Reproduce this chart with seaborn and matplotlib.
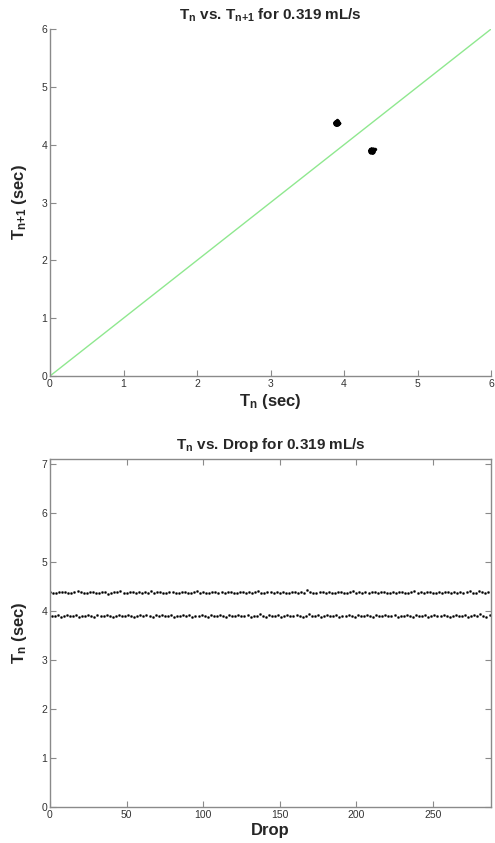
import numpy as np
import pandas as pd
import matplotlib
matplotlib.use("Agg")
import matplotlib.pyplot as plt
import seaborn as sns

# ---- data ----
tn_high = [4.38,4.37,4.36,4.38,4.39,4.38,4.37,4.36,4.38,4.40,4.38,4.37,
           4.36,4.38,4.39,4.37,4.36,4.38,4.38,4.35,4.37,4.39,4.38,4.41,
           4.37,4.36,4.38,4.38,4.37,4.39,4.36,4.38,4.37,4.40,4.36,4.38,
           4.39,4.37,4.36,4.38,4.38,4.36,4.37,4.39,4.38,4.37,4.36,4.38,
           4.40,4.37,4.38,4.36,4.37,4.39,4.38,4.36,4.38,4.37,4.39,4.38,
           4.36,4.37,4.38,4.39,4.36,4.38,4.37,4.38,4.40,4.37,4.36,4.38,
           4.38,4.37,4.39,4.36,4.38,4.37,4.36,4.38,4.39,4.37,4.38,4.36,
           4.42,4.38,4.37,4.36,4.38,4.39,4.37,4.38,4.36,4.37,4.39,4.38,
           4.37,4.36,4.38,4.40,4.37,4.38,4.36,4.39,4.37,4.38,4.38,4.36,
           4.38,4.39,4.37,4.36,4.38,4.37,4.39,4.38,4.36,4.37,4.38,4.40,
           4.37,4.38,4.36,4.39,4.38,4.37,4.36,4.38,4.37,4.39,4.38,4.36,
           4.38,4.37,4.39,4.36,4.38,4.40,4.37,4.36,4.41,4.38,4.37,4.39]
tn_low = [3.90,3.89,3.91,3.88,3.90,3.92,3.89,3.90,3.91,3.88,3.90,3.89,
          3.91,3.90,3.88,3.92,3.89,3.90,3.91,3.89,3.88,3.90,3.92,3.90,
          3.89,3.91,3.90,3.88,3.90,3.91,3.89,3.92,3.90,3.88,3.91,3.90,
          3.92,3.89,3.90,3.91,3.88,3.90,3.89,3.91,3.90,3.92,3.88,3.90,
          3.89,3.91,3.90,3.88,3.92,3.90,3.89,3.91,3.90,3.88,3.91,3.89,
          3.90,3.92,3.89,3.90,3.91,3.88,3.90,3.89,3.93,3.90,3.88,3.91,
          3.89,3.90,3.91,3.88,3.90,3.92,3.89,3.90,3.91,3.89,3.88,3.90,
          3.93,3.90,3.89,3.91,3.88,3.90,3.92,3.89,3.90,3.91,3.88,3.90,
          3.89,3.91,3.90,3.88,3.92,3.90,3.89,3.91,3.90,3.88,3.91,3.89,
          3.90,3.92,3.89,3.90,3.91,3.88,3.90,3.89,3.91,3.90,3.88,3.92,
          3.90,3.89,3.91,3.88,3.90,3.92,3.89,3.90,3.91,3.89,3.88,3.90,
          3.91,3.89,3.90,3.92,3.88,3.90,3.91,3.89,3.93,3.90,3.88,3.91]
diag_x = [0, 6]
diag_y = [0, 6]
top_ticks = [0, 1, 2, 3, 4, 5, 6]
bottom_yticks = [0, 1, 2, 3, 4, 5, 6, 7]
bottom_xticks = [0, 50, 100, 150, 200, 250]

tn = [v for pair in zip(tn_high, tn_low) for v in pair]
drop = list(range(len(tn)))
df_series = pd.DataFrame({"Drop": drop, "Tn": tn})
df_return = pd.DataFrame({"Tn": tn[:-1], "Tn1": tn[1:]})
df_diag = pd.DataFrame({"x": diag_x, "y": diag_y})

# ---- style ----
sns.set_theme(style="white")
plt.rcParams["font.family"] = ["Liberation Sans", "DejaVu Sans"]
plt.rcParams["mathtext.fontset"] = "custom"
plt.rcParams["mathtext.bf"] = "Liberation Sans:bold"
plt.rcParams["mathtext.rm"] = "Liberation Sans:bold"
plt.rcParams["mathtext.default"] = "bf"

spine_c = "#8a8a8a"
tick_c = "#333333"

fig = plt.figure(figsize=(4.95, 8.43), dpi=100)
ax1 = fig.add_axes([0.101, 0.554, 0.891, 0.4115])
ax2 = fig.add_axes([0.101, 0.0427, 0.891, 0.4128])

# top: return map
sns.lineplot(data=df_diag, x="x", y="y", ax=ax1, color="#8fe88f", lw=1.0)
sns.scatterplot(data=df_return, x="Tn", y="Tn1", ax=ax1, color="black",
                s=5, marker="o", edgecolor="black", linewidth=0.2)
ax1.set_xlim(0, 6)
ax1.set_ylim(0, 6)
ax1.set_xticks(top_ticks)
ax1.set_yticks(top_ticks)
ax1.set_title("$T_n$ vs. $T_{n{+}1}$ for 0.319 mL/s", fontsize=11, fontweight="bold", pad=7)
ax1.set_xlabel("$T_n$ (sec)", fontsize=12, fontweight="bold", labelpad=2)
ax1.set_ylabel("$T_{n{+}1}$ (sec)", fontsize=12, fontweight="bold", labelpad=9)
for s in ["top", "right"]:
    ax1.spines[s].set_visible(False)
for s in ["left", "bottom"]:
    ax1.spines[s].set_color(spine_c)
    ax1.spines[s].set_linewidth(1.0)
ax1.tick_params(direction="in", length=4, width=0.8, color=spine_c,
                labelsize=7.5, labelcolor=tick_c, bottom=True, left=True, pad=2)

# bottom: time series
sns.scatterplot(data=df_series, x="Drop", y="Tn", ax=ax2, color="black",
                s=2.5, marker="o", edgecolor="black", linewidth=0.2)
ax2.set_xlim(0, 288)
ax2.set_ylim(0, 7.1)
ax2.set_xticks(bottom_xticks)
ax2.set_yticks(bottom_yticks)
ax2.set_title("$T_n$ vs. Drop for 0.319 mL/s", fontsize=11, fontweight="bold", pad=7)
ax2.set_xlabel("Drop", fontsize=12, fontweight="bold", labelpad=2)
ax2.set_ylabel("$T_n$ (sec)", fontsize=12, fontweight="bold", labelpad=9)
for s in ["left", "bottom", "top", "right"]:
    ax2.spines[s].set_visible(True)
    ax2.spines[s].set_color(spine_c)
    ax2.spines[s].set_linewidth(1.0)
ax2.tick_params(direction="in", length=4, width=0.8, color=spine_c,
                labelsize=7.5, labelcolor=tick_c, bottom=True, left=True,
                top=True, right=True, pad=2)

fig.savefig("out.png", dpi=100)
